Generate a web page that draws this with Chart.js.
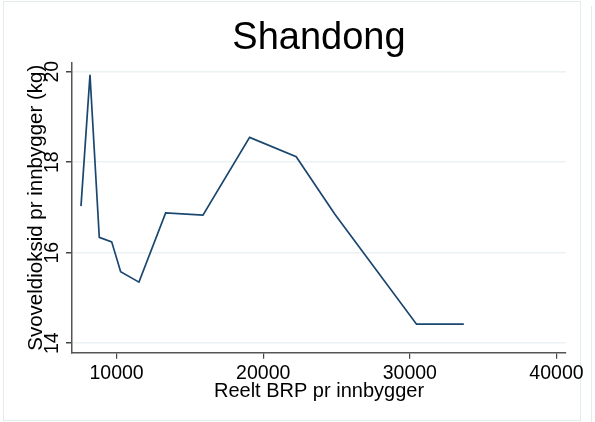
<!DOCTYPE html>
<html>
<head>
<meta charset="utf-8">
<script src="https://cdn.jsdelivr.net/npm/chart.js@4"></script>
<style>
  html, body { margin: 0; padding: 0; background: #fff; }
</style>
</head>
<body>
<canvas id="myChart" width="595" height="422"></canvas>
<script>
// Shandong: real GDP per capita vs SO2 per capita
const brp = [7573, 8187, 8821, 9666, 10278, 11527, 13347, 15890, 19073, 22250, 24888, 30457, 33681];
const svovel = [17.03, 19.93, 16.34, 16.24, 15.58, 15.35, 16.88, 16.83, 18.55, 18.12, 16.85, 14.42, 14.42];
const yTicks = [14, 16, 18, 20];
const xTicks = [10000, 20000, 30000, 40000];

const fam = '"Liberation Sans", Arial, sans-serif';

// light outer frame like the stata graph region
const frame = {
    id: 'frame',
    beforeDraw(chart) {
        const ctx = chart.ctx;
        ctx.save();
        ctx.fillStyle = '#fff';
        ctx.fillRect(0, 0, chart.width, chart.height);
        ctx.strokeStyle = '#e3ebeb';
        ctx.lineWidth = 1;
        ctx.strokeRect(3.5, 1.5, 577, 419);
        ctx.beginPath();
        ctx.moveTo(591.5, 6);
        ctx.lineTo(591.5, 422);
        ctx.stroke();
        ctx.restore();
    }
};

const ctx = document.getElementById('myChart').getContext('2d');
const myChart = new Chart(ctx, {
    type: 'line',
    data: {
        datasets: [{
            data: brp.map((x, i) => ({ x: x, y: svovel[i] })),
            borderColor: '#1a476f',
            borderWidth: 1.7,
            pointRadius: 0,
            fill: false,
            tension: 0
        }]
    },
    options: {
        responsive: false,
        animation: false,
        layout: { padding: { left: 0, right: 29, top: 0, bottom: 0 } },
        plugins: {
            legend: { display: false },
            tooltip: { enabled: false },
            title: {
                display: true,
                text: 'Shandong',
                fullSize: false,
                color: '#000',
                font: { family: fam, size: 38, weight: 'normal' },
                padding: { top: 16, bottom: 1.1 }
            }
        },
        scales: {
            x: {
                type: 'linear',
                min: 6960,
                max: 40650,
                afterBuildTicks: (s) => { s.ticks = xTicks.map(v => ({ value: v })); },
                afterFit: (s) => { s.height = 69.3; },
                grid: { drawOnChartArea: false, tickLength: 6, tickColor: '#444', lineWidth: 1.2 },
                border: { color: '#555', width: 1.5 },
                ticks: {
                    color: '#000',
                    font: { family: fam, size: 19.5 },
                    padding: 3.7,
                    maxRotation: 0,
                    autoSkip: false,
                    callback: (v) => String(v)
                },
                title: {
                    display: true,
                    text: 'Reelt BRP pr innbygger',
                    color: '#000',
                    font: { family: fam, size: 20 },
                    padding: { top: 0, bottom: 18.6 }
                }
            },
            y: {
                min: 13.79,
                max: 20.2,
                afterBuildTicks: (s) => { s.ticks = yTicks.map(v => ({ value: v })); },
                afterFit: (s) => { s.width = 72; },
                grid: { color: '#eaf2f3', lineWidth: 1.5, tickLength: 6, tickColor: '#444' },
                border: { color: '#555', width: 1.5 },
                ticks: {
                    color: '#000',
                    font: { family: fam, size: 19.5 },
                    minRotation: 90,
                    maxRotation: 90,
                    crossAlign: 'center',
                    padding: 2.4,
                    callback: (v) => String(v)
                },
                title: {
                    display: true,
                    text: 'Svoveldioksid pr innbygger (kg)',
                    color: '#000',
                    font: { family: fam, size: 20.5 },
                    padding: { top: 23.6, bottom: 0 }
                }
            }
        }
    },
    plugins: [frame]
});
</script>
</body>
</html>
